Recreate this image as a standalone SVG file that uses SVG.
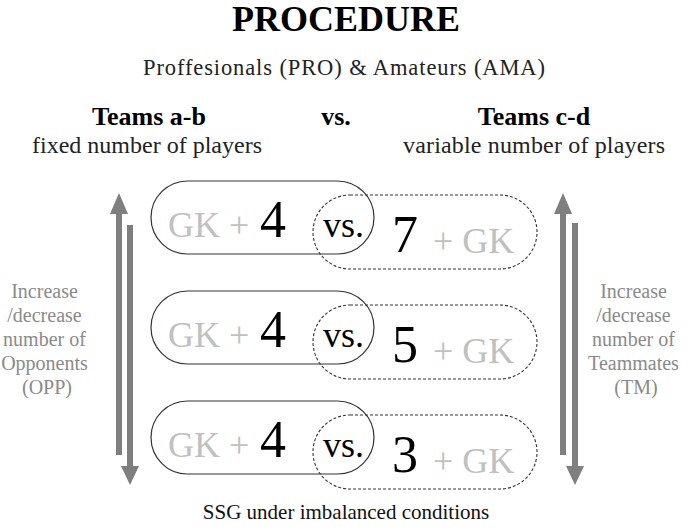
<svg xmlns="http://www.w3.org/2000/svg" width="694" height="531" viewBox="0 0 694 531" font-family="'Liberation Serif', 'DejaVu Serif', serif">
<style>
text, tspan { font-family: 'Liberation Serif', 'DejaVu Serif', serif; }
.title{font-size:36px;font-weight:bold;fill:#000}
.sub{font-size:22.5px;fill:#222}
.head{font-size:26px;font-weight:bold;fill:#000}
.desc{font-size:24px;fill:#222}
.side{font-size:20px;fill:#8a8a8a}
.gk{font-size:36px;fill:#c0c0c0}
.num{font-size:52px;fill:#000}
.vs{font-size:36px;fill:#000}
.solid{fill:none;stroke:#333;stroke-width:1.2}
.dash{fill:none;stroke:#333;stroke-width:1.1;stroke-dasharray:3 2}
.arr{fill:#7f7f7f}
.foot{font-size:21px;fill:#111}
</style>
<rect width="694" height="531" fill="#fff"/>
<text class="title" x="346" y="31" text-anchor="middle">PROCEDURE</text>
<text class="sub" x="344" y="75" text-anchor="middle" textLength="402" lengthAdjust="spacing">Proffesionals (PRO) &amp; Amateurs (AMA)</text>
<text class="head" x="149" y="125" text-anchor="middle">Teams a-b</text>
<text class="head" x="336" y="125" text-anchor="middle">vs.</text>
<text class="head" x="534" y="125" text-anchor="middle">Teams c-d</text>
<text class="desc" x="147" y="153" text-anchor="middle" textLength="230" lengthAdjust="spacing">fixed number of players</text>
<text class="desc" x="534" y="153" text-anchor="middle" textLength="262" lengthAdjust="spacing">variable number of players</text>

<g id="connectors">
  <g id="arrow-left-up">
    <rect class="arr" x="116" y="212" width="6" height="243"/>
    <polygon class="arr" points="110,214 128,214 119,193"/>
  </g>
  <g id="arrow-left-down">
    <rect class="arr" x="127" y="225" width="6" height="243"/>
    <polygon class="arr" points="121,466 139,466 130,485"/>
  </g>
  <g id="arrow-right-up">
    <rect class="arr" x="560" y="212" width="6" height="243"/>
    <polygon class="arr" points="554,214 572,214 563,193"/>
  </g>
  <g id="arrow-right-down">
    <rect class="arr" x="572" y="223" width="6" height="245"/>
    <polygon class="arr" points="566,466 584,466 575,485"/>
  </g>
</g>

<g id="label-left">
  <text class="side" text-anchor="middle">
    <tspan x="47" y="298">Increase</tspan>
    <tspan x="47" y="322">/decrease</tspan>
    <tspan x="47" y="346">number of</tspan>
    <tspan x="47" y="370">Opponents</tspan>
    <tspan x="47" y="394">(OPP)</tspan>
  </text>
</g>
<g id="label-right">
  <text class="side" text-anchor="middle">
    <tspan x="636" y="298">Increase</tspan>
    <tspan x="636" y="322">/decrease</tspan>
    <tspan x="636" y="346">number of</tspan>
    <tspan x="636" y="370">Teammates</tspan>
    <tspan x="636" y="394">(TM)</tspan>
  </text>
</g>

<g id="row1">
  <g id="row1-ab">
    <rect class="solid" x="151" y="181" width="223" height="73" rx="36.5"/>
    <text class="gk" x="168" y="237">GK +</text>
    <text class="num" x="260" y="237">4</text>
  </g>
  <g id="row1-cd">
    <rect class="dash" x="313" y="195" width="224" height="74" rx="37"/>
    <text class="num" x="392" y="252">7</text>
    <text class="gk" x="433" y="253">+ GK</text>
  </g>
  <text class="vs" x="323" y="237">vs.</text>
</g>
<g id="row2">
  <g id="row2-ab">
    <rect class="solid" x="151" y="291" width="223" height="73" rx="36.5"/>
    <text class="gk" x="168" y="347">GK +</text>
    <text class="num" x="260" y="347">4</text>
  </g>
  <g id="row2-cd">
    <rect class="dash" x="313" y="305" width="224" height="74" rx="37"/>
    <text class="num" x="392" y="362">5</text>
    <text class="gk" x="433" y="363">+ GK</text>
  </g>
  <text class="vs" x="323" y="347">vs.</text>
</g>
<g id="row3">
  <g id="row3-ab">
    <rect class="solid" x="151" y="401" width="223" height="73" rx="36.5"/>
    <text class="gk" x="168" y="457">GK +</text>
    <text class="num" x="260" y="457">4</text>
  </g>
  <g id="row3-cd">
    <rect class="dash" x="313" y="415" width="224" height="74" rx="37"/>
    <text class="num" x="392" y="472">3</text>
    <text class="gk" x="433" y="473">+ GK</text>
  </g>
  <text class="vs" x="323" y="457">vs.</text>
</g>

<text class="foot" x="346" y="519" text-anchor="middle">SSG under imbalanced conditions</text>
</svg>
